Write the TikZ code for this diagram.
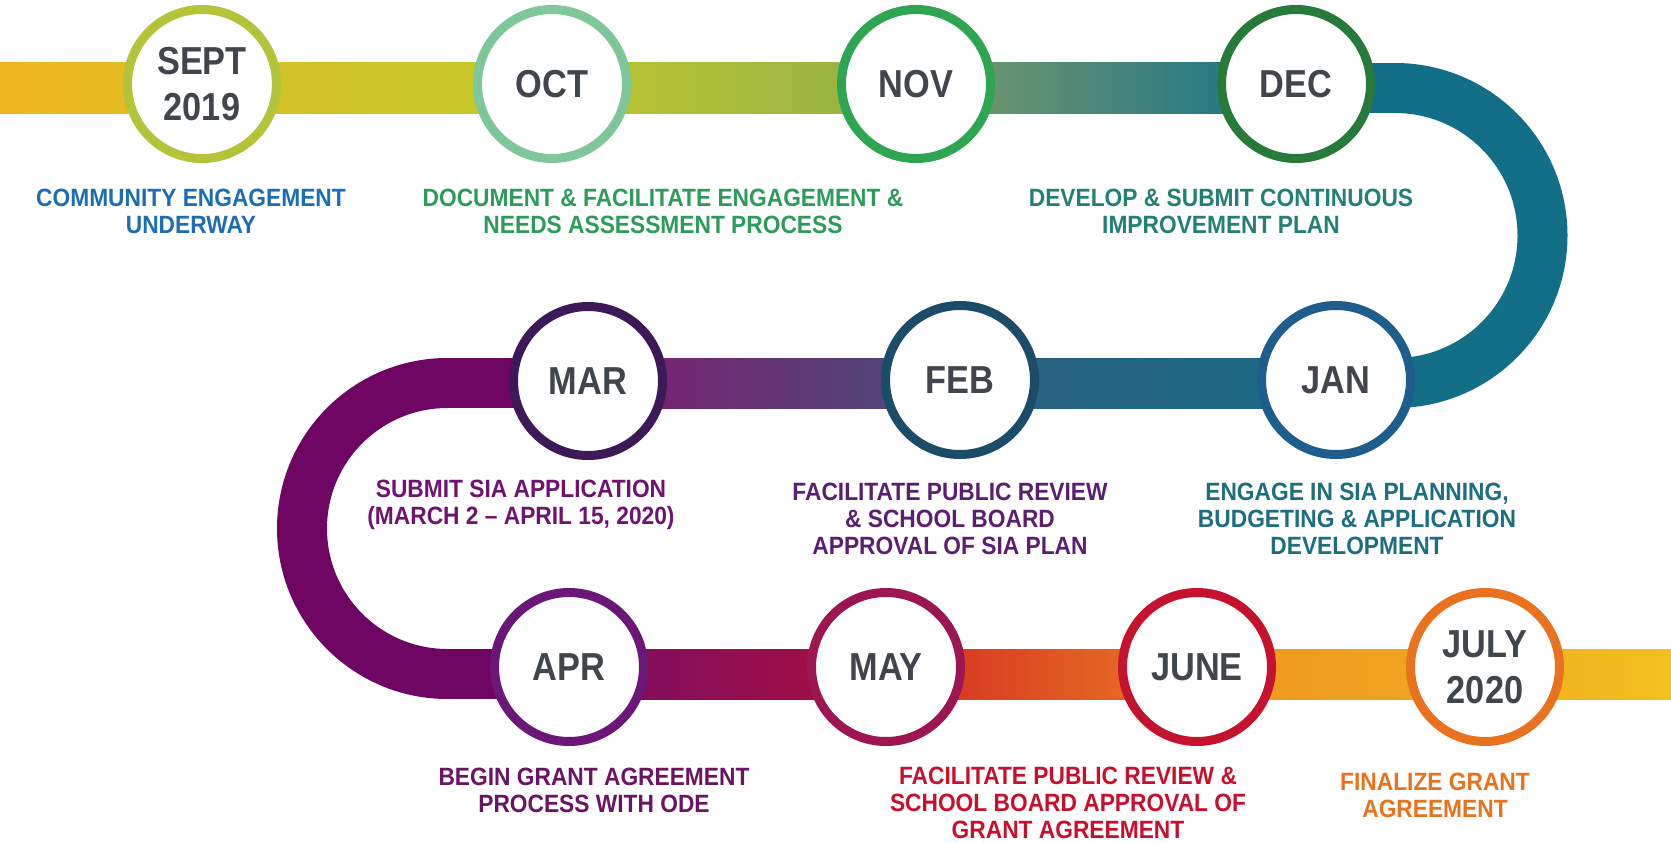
\documentclass[tikz,border=0pt]{standalone}
\usepackage{fontspec}
\newfontfamily\lblf{Liberation Sans}[FakeStretch=0.88]
\newfontfamily\descf{Liberation Sans}[FakeStretch=0.91]
\definecolor{labelgray}{HTML}{40464C}
% ring colours
\definecolor{rsept}{HTML}{B3C43A}
\definecolor{roct}{HTML}{7FC69B}
\definecolor{rnov}{HTML}{2FA452}
\definecolor{rdec}{HTML}{277A3C}
\definecolor{rjan}{HTML}{1F5E8C}
\definecolor{rfeb}{HTML}{1C4C68}
\definecolor{rmar}{HTML}{3E1957}
\definecolor{rapr}{HTML}{6A1778}
\definecolor{rmay}{HTML}{9C1652}
\definecolor{rjune}{HTML}{C5122E}
\definecolor{rjuly}{HTML}{E8721F}
% description colours
\definecolor{dsept}{HTML}{1E6DB4}
\definecolor{doct}{HTML}{2E9B5B}
\definecolor{ddec}{HTML}{238073}
\definecolor{djan}{HTML}{1E6D80}
\definecolor{dfeb}{HTML}{5B1F72}
\definecolor{dmar}{HTML}{6E1470}
\definecolor{dapr}{HTML}{6A1463}
\definecolor{dmay}{HTML}{C8102E}
\definecolor{djuly}{HTML}{E8731E}
% band colours
\definecolor{bandteal}{HTML}{136E87}
\definecolor{bandplum}{HTML}{6E0563}
\definecolor{ba}{HTML}{F2B51F}
\definecolor{bb}{HTML}{DDBF24}
\definecolor{bc}{HTML}{D6C126}
\definecolor{bd}{HTML}{C2C72B}
\definecolor{be}{HTML}{BDC92C}
\definecolor{bf}{HTML}{93AE4A}
\definecolor{bg}{HTML}{7F9C69}
\definecolor{bh}{HTML}{12708A}
\definecolor{bi}{HTML}{2C5F80}
\definecolor{bj}{HTML}{196B86}
\definecolor{bk}{HTML}{801A70}
\definecolor{bl}{HTML}{46507A}
\definecolor{bm}{HTML}{780C64}
\definecolor{bn}{HTML}{A9103E}
\definecolor{bo}{HTML}{D32A24}
\definecolor{bp}{HTML}{EA7A22}
\definecolor{bq}{HTML}{EE9620}
\definecolor{br}{HTML}{F0A820}
\definecolor{bs}{HTML}{F0AE1E}
\definecolor{bt}{HTML}{F2C01F}
\begin{document}
\begin{tikzpicture}[x=1pt,y=-1pt,
  month/.style={circle, draw=#1, line width=9pt, fill=white, minimum size=149pt,
    inner sep=0pt, text=labelgray, align=center,
    font=\lblf\bfseries\fontsize{39}{46}\selectfont},
  desc/.style={text=#1, align=center, inner sep=0pt,
    font=\descf\bfseries\fontsize{25}{27}\selectfont},
  band/.style={line width=50pt}]
\useasboundingbox (0,0) rectangle (1671,843);
% ---------- top band ----------
\shade[left color=ba, right color=bb] (0,63) rectangle (203,113);
\shade[left color=bc, right color=bd] (202,63) rectangle (553,113);
\shade[left color=be, right color=bf] (552,63) rectangle (917,113);
\shade[left color=bg, right color=bh] (916,63) rectangle (1297,113);
\fill[bandteal] (1296,63) rectangle (1396,113);
\draw[band, bandteal] (1395,88) arc[start angle=-90, end angle=90, radius=147.5];
% ---------- middle band ----------
\fill[bandteal] (1335,358) rectangle (1396,408);
\shade[left color=bi, right color=bj] (960,358) rectangle (1337,408);
\shade[left color=bk, right color=bl] (588,358) rectangle (961,408);
\fill[bandplum] (447,358) rectangle (589,408);
\draw[band, bandplum] (447.5,383) arc[start angle=270, end angle=90, radius=145.5];
% ---------- bottom band ----------
\fill[bandplum] (447,649) rectangle (570,699);
\shade[left color=bm, right color=bn] (569,649) rectangle (887,699);
\shade[left color=bo, right color=bp] (886,649) rectangle (1198,699);
\shade[left color=bq, right color=br] (1197,649) rectangle (1486,699);
\shade[left color=bs, right color=bt] (1485,649) rectangle (1671,699);
% ---------- month circles ----------
\node[month=rsept] (sept) at (202,84) {SEPT\\2019};
\node[month=roct]  (oct)  at (552,84) {OCT};
\node[month=rnov]  (nov)  at (916,84) {NOV};
\node[month=rdec]  (dec)  at (1296,84) {DEC};
\node[month=rjan]  (jan)  at (1336,380) {JAN};
\node[month=rfeb]  (feb)  at (960,380) {FEB};
\node[month=rmar]  (mar)  at (588,381) {MAR};
\node[month=rapr]  (apr)  at (569,667) {APR};
\node[month=rmay]  (may)  at (886,667) {MAY};
\node[month=rjune] (june) at (1197,667) {JUNE};
\node[month=rjuly] (july) at (1485,667) {JULY\\2020};
% ---------- descriptions ----------
\node[desc=dsept] (tsept) at (191,211) {COMMUNITY ENGAGEMENT\\UNDERWAY};
\node[desc=doct]  (toct)  at (663,211) {DOCUMENT \& FACILITATE ENGAGEMENT \&\\NEEDS ASSESSMENT PROCESS};
\node[desc=ddec]  (tdec)  at (1221,211) {DEVELOP \& SUBMIT CONTINUOUS\\IMPROVEMENT PLAN};
\node[desc=djan]  (tjan)  at (1357,519) {ENGAGE IN SIA PLANNING,\\BUDGETING \& APPLICATION\\DEVELOPMENT};
\node[desc=dfeb]  (tfeb)  at (950,519) {FACILITATE PUBLIC REVIEW\\\& SCHOOL BOARD\\APPROVAL OF SIA PLAN};
\node[desc=dmar]  (tmar)  at (521,505) {SUBMIT SIA APPLICATION\\(MARCH 2 – APRIL 15, 2020)};
\node[desc=dapr]  (tapr)  at (594,790) {BEGIN GRANT AGREEMENT\\PROCESS WITH ODE};
\node[desc=dmay]  (tmay)  at (1068,803) {FACILITATE PUBLIC REVIEW \&\\SCHOOL BOARD APPROVAL OF\\GRANT AGREEMENT};
\node[desc=djuly] (tjuly) at (1435,795) {FINALIZE GRANT\\AGREEMENT};
\end{tikzpicture}
\end{document}
